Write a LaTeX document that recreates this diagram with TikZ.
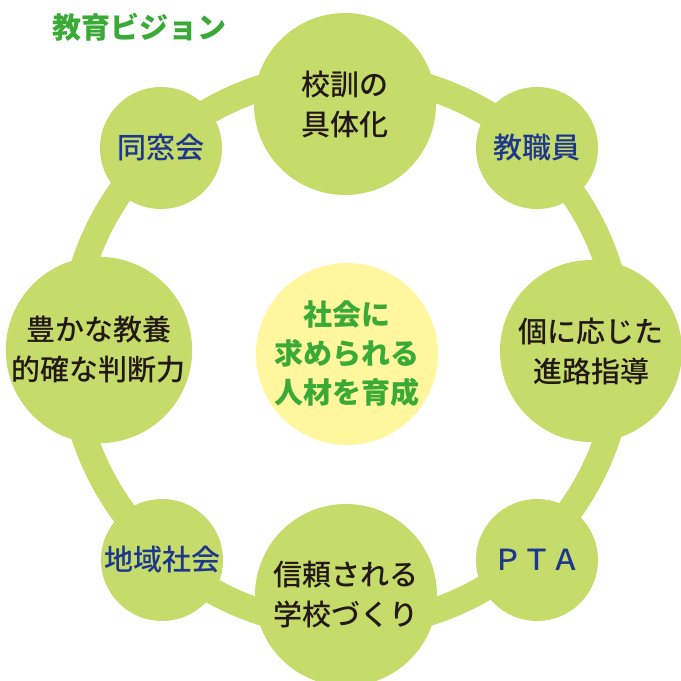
\documentclass[tikz,border=0pt]{standalone}
\usepackage{fontspec}
\setmainfont{Noto Sans CJK JP}
\newfontfamily\midfont{Noto Sans CJK JP Medium}
\definecolor{leaf}{RGB}{197,219,106}
\definecolor{cream}{RGB}{255,246,158}
\definecolor{ink}{RGB}{35,24,21}
\definecolor{navy}{RGB}{29,55,140}
\definecolor{sprout}{RGB}{57,170,53}
\tikzset{
  ring/.style={draw=leaf, line width=26pt},
  bigdisc/.style={circle, fill=leaf, minimum size=182pt, inner sep=0pt, align=center,
    text=ink, font=\midfont\fontsize{29}{40}\selectfont},
  smalldisc/.style={circle, fill=leaf, minimum size=122pt, inner sep=0pt, align=center,
    text=navy, font=\midfont\fontsize{29}{36}\selectfont},
  hubdisc/.style={circle, fill=cream, minimum size=182pt, inner sep=0pt, align=center,
    text=sprout, font=\fontsize{29}{39}\selectfont\bfseries},
}
\begin{document}
\begin{tikzpicture}[x=1pt,y=-1pt]
    \useasboundingbox (0,0) rectangle (681,681);
    \clip (0,0) rectangle (681,681);
    \coordinate (hub) at (346,350);
    % the ring
    \draw [ring] (hub) circle [radius=275.5pt];
    % big discs
    \node [bigdisc] (kokun) at (345,104) {校訓の\\具体化};
    \node [bigdisc] (kyoyo) at (99,350) {豊かな教養\\的確な判断力};
    \node [bigdisc] (shinro) at (591,351) {個に応じた\\進路指導};
    \node [bigdisc] (gakko) at (346,595) {信頼される\\学校づくり};
    % small discs
    \node [smalldisc] (dosokai) at (161,148) {同窓会};
    \node [smalldisc] (kyoshokuin) at (537,148) {教職員};
    \node [smalldisc] (chiiki) at (162,560) {地域社会};
    \node [smalldisc] (pta) at (537,560) {ＰＴＡ};
    % centre
    \node [hubdisc] (jinzai) at (347,354) {社会に\\求められる\\人材を育成};
    \node [anchor=west, text=sprout, font=\fontsize{29}{36}\selectfont\bfseries] (vision) at (49,27) {教育ビジョン};
\end{tikzpicture}
\end{document}
